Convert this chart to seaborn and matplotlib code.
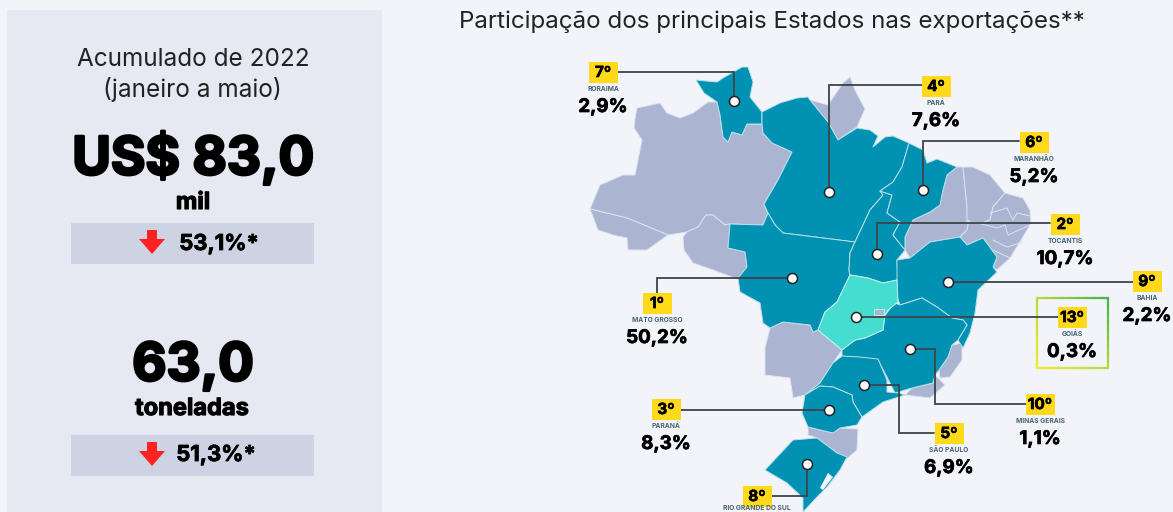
import numpy as np
import pandas as pd
import seaborn as sns
import matplotlib.pyplot as plt
import matplotlib.patheffects as pe
from matplotlib.collections import LineCollection
from matplotlib.colors import LinearSegmentedColormap
from matplotlib.patches import Polygon, Rectangle

sns.set_theme(style='white')
plt.rcParams['font.family'] = ['Inter', 'DejaVu Sans']

ranks = ['7º', '4º', '6º', '2º', '9º', '13º', '10º', '5º', '3º', '1º', '8º']
states = ['RORAIMA', 'PARÁ', 'MARANHÃO', 'TOCANTIS', 'BAHIA', 'GOIÁS', 'MINAS GERAIS',
          'SÃO PAULO', 'PARANÁ', 'MATO GROSSO', 'RIO GRANDE DO SUL']
shares = ['2,9%', '7,6%', '5,2%', '10,7%', '2,2%', '0,3%', '1,1%', '6,9%', '8,3%', '50,2%', '']

# label position (centre of yellow tag) and the point on the map
tag_x = [603, 936, 1034, 1065, 1147, 1072, 1040, 949, 666, 657, 757]
tag_y = [72, 86, 142, 224, 281, 317, 404, 433, 409, 303, 496]
dot_x = [734, 829, 923, 877, 948, 856, 910, 864, 829, 792, 807]
dot_y = [101, 192, 190, 254, 282, 317, 349, 385, 410, 278, 464]

# leader lines, from tag to dot
leader_x = [[618, 734, 734], [922, 829, 829], [1019, 923, 923], [1050, 877, 877],
            [1133, 948], [1058, 856], [1026, 935, 935, 910], [934, 899, 899, 864],
            [680, 829], [657, 657, 792], [771, 807, 807]]
leader_y = [[72, 72, 101], [85, 85, 192], [141, 141, 190], [223, 223, 254],
            [282, 282], [317, 317], [404, 404, 349, 349], [433, 433, 385, 385],
            [410, 410], [293, 278, 278], [496, 496, 464]]

# state outlines
amazonas = [(637, 108), (660, 103), (667, 113), (680, 118), (693, 113), (708, 102), (717, 102), (720, 115),
            (723, 137), (728, 142), (732, 132), (742, 135), (747, 124), (762, 124), (763, 133), (772, 143),
            (792, 152), (778, 180), (764, 204), (768, 213), (763, 225), (730, 224), (725, 225), (713, 215),
            (706, 215), (698, 227), (687, 232), (668, 235), (627, 218), (590, 209), (600, 185), (623, 175),
            (635, 175), (642, 140), (634, 128), (635, 119)]
acre = [(590, 209), (627, 218), (668, 235), (647, 250), (628, 250), (627, 238), (613, 235), (598, 230)]
rondonia = [(683, 237), (687, 232), (698, 227), (706, 215), (713, 215), (725, 225), (730, 224), (728, 248),
            (745, 252), (747, 267), (740, 280), (713, 270), (693, 263), (684, 250)]
amapa = [(810, 100), (828, 105), (843, 83), (850, 77), (855, 90), (865, 109), (857, 127), (838, 140), (828, 122)]
piaui = [(957, 167), (963, 167), (967, 207), (969, 220), (967, 230), (960, 237), (930, 242), (910, 258),
         (905, 250), (905, 237), (913, 220), (930, 212), (940, 205), (943, 190), (947, 175)]
ceara = [(963, 167), (973, 167), (990, 175), (1005, 193), (993, 207), (990, 220), (982, 223), (967, 222), (967, 207)]
nordeste = [(967, 222), (982, 223), (990, 220), (993, 207), (1005, 193), (1023, 198), (1030, 210), (1031, 223),
            (1023, 237), (1010, 258), (997, 270), (993, 267), (997, 257), (983, 238), (967, 245), (960, 237),
            (967, 230), (969, 220)]
mato_grosso_sul = [(770, 328), (783, 322), (810, 325), (813, 332), (818, 330), (842, 350), (833, 363), (820, 383),
                   (805, 395), (793, 398), (790, 378), (765, 375), (765, 348)]
espirito_santo = [(952, 345), (962, 343), (962, 360), (950, 377), (940, 378), (939, 370), (948, 357)]
rio_janeiro = [(935, 375), (945, 385), (930, 398), (905, 395), (912, 388), (933, 383)]
santa_catarina = [(808, 427), (808, 435), (817, 438), (837, 453), (842, 463), (857, 450), (858, 429), (840, 428), (833, 433)]
distrito_federal = [(874, 309), (884, 309), (884, 315), (874, 315)]
grey_states = [amazonas, acre, rondonia, amapa, piaui, ceara, nordeste, mato_grosso_sul, espirito_santo,
               rio_janeiro, santa_catarina, distrito_federal]

roraima = [(696, 80), (717, 82), (723, 78), (742, 67), (748, 67), (753, 82), (750, 97), (762, 112), (762, 124),
           (747, 124), (742, 135), (732, 132), (728, 142), (723, 137), (720, 115), (717, 102), (704, 93)]
para = [(762, 112), (780, 103), (797, 98), (808, 97), (810, 100), (828, 122), (838, 140), (857, 128), (870, 130),
        (878, 136), (873, 147), (885, 137), (893, 136), (909, 143), (902, 167), (893, 182), (880, 191), (883, 195),
        (870, 210), (863, 225), (855, 242), (783, 233), (775, 225), (768, 213), (764, 204), (778, 180), (792, 152),
        (772, 143), (763, 133), (762, 124)]
mato_grosso = [(730, 224), (763, 225), (768, 213), (775, 225), (783, 233), (855, 242), (850, 253), (849, 270),
               (850, 275), (837, 302), (825, 312), (818, 330), (813, 332), (810, 325), (783, 322), (770, 328),
               (763, 323), (760, 303), (740, 292), (738, 278), (747, 267), (745, 252), (728, 248)]
tocantins = [(880, 191), (892, 195), (887, 213), (900, 222), (893, 235), (905, 250), (897, 260), (898, 280),
             (883, 283), (868, 278), (850, 275), (849, 270), (850, 253), (855, 242), (863, 225), (870, 210), (883, 195)]
maranhao = [(909, 143), (923, 150), (927, 163), (937, 159), (957, 167), (947, 175), (943, 190), (940, 205),
            (930, 212), (913, 220), (905, 237), (905, 250), (893, 235), (900, 222), (887, 213), (892, 195),
            (880, 191), (893, 182), (902, 167)]
bahia = [(897, 260), (910, 258), (930, 242), (960, 237), (967, 245), (983, 238), (997, 257), (993, 267), (997, 272),
         (978, 290), (975, 313), (970, 333), (963, 348), (958, 340), (967, 325), (963, 320), (952, 318), (937, 307),
         (922, 298), (900, 305), (897, 297)]
minas = [(842, 350), (855, 340), (865, 338), (883, 330), (885, 315), (895, 303), (900, 305), (922, 298), (937, 307),
         (952, 318), (963, 320), (967, 325), (958, 340), (952, 345), (948, 357), (939, 370), (935, 375), (933, 383),
         (912, 388), (895, 393), (887, 377), (878, 360), (860, 358), (842, 356)]
sao_paulo = [(842, 356), (860, 357), (878, 359), (887, 380), (887, 392), (899, 393), (905, 395), (883, 402),
             (862, 417), (853, 402), (852, 395), (833, 387), (820, 386), (805, 395), (820, 383), (833, 363)]
parana = [(805, 395), (820, 386), (833, 387), (852, 395), (853, 402), (862, 417), (857, 425), (840, 428), (833, 433),
          (808, 427), (802, 413)]
rio_grande_sul = [(817, 438), (837, 453), (847, 457), (840, 470), (827, 487), (817, 497), (803, 512), (803, 498),
                  (787, 483), (765, 470), (793, 440)]
teal_states = [roraima, para, mato_grosso, tocantins, maranhao, bahia, minas, sao_paulo, parana, rio_grande_sul]
goias = [(850, 275), (868, 278), (883, 283), (897, 280), (898, 302), (888, 310), (885, 315), (883, 330), (865, 338),
         (855, 340), (842, 350), (818, 330), (825, 312), (837, 302)]
lagoon = [(828, 473), (833, 477), (823, 490), (820, 488)]
ne_borders = [[(990, 213), (1007, 208), (1013, 220), (1017, 213), (1030, 216)],
              [(967, 222), (982, 224), (997, 228), (1005, 225), (1008, 235), (1030, 225)],
              [(993, 240), (1007, 247), (1023, 242)],
              [(993, 250), (1010, 258)]]

BG = '#F2F4FA'
PANEL = '#E6E8F2'
BAR = '#CDD3E3'
GREY = '#ABB5D1'
TEAL = '#0091B3'
AQUA = '#45DDCF'
YELLOW = '#FFD91A'
LINE = '#3C4448'

fig = plt.figure(figsize=(11.73, 5.12), dpi=100, facecolor=BG)
ax = fig.add_axes([0, 0, 1, 1])
ax.set_xlim(0, 1173)
ax.set_ylim(512, 0)
ax.axis('off')


def heavy(w):
    return [pe.withStroke(linewidth=w, foreground='black')]


# left panel
ax.add_patch(Rectangle((7, 10), 375, 502, fc=PANEL, ec='none'))
ax.add_patch(Rectangle((71, 223), 243, 41, fc=BAR, ec='none'))
ax.add_patch(Rectangle((71, 435), 243, 41, fc=BAR, ec='none'))
ax.text(193, 60, 'Acumulado de 2022', ha='center', va='center', fontsize=17.5, color='#222222')
ax.text(192, 90, '(janeiro a maio)', ha='center', va='center', fontsize=17.5, color='#222222')
ax.text(193, 159, 'US$ 83,0', ha='center', va='center', fontsize=38, color='black', fontweight='bold', path_effects=heavy(2))
ax.text(193, 203, 'mil', ha='center', va='center', fontsize=17, color='black', fontweight='bold', path_effects=heavy(0.8))
ax.text(219, 244, '53,1%*', ha='center', va='center', fontsize=15.8, color='black', fontweight='bold', path_effects=heavy(0.6))
ax.text(193, 367, '63,0', ha='center', va='center', fontsize=38, color='black', fontweight='bold', path_effects=heavy(2))
ax.text(192, 409, 'toneladas', ha='center', va='center', fontsize=17, color='black', fontweight='bold', path_effects=heavy(0.8))
ax.text(216, 455, '51,3%*', ha='center', va='center', fontsize=15.8, color='black', fontweight='bold', path_effects=heavy(0.6))
for ay in [230, 442]:
    ax.add_patch(Polygon([(147, ay), (157, ay), (157, ay + 9), (165, ay + 9), (152, ay + 24),
                          (139, ay + 9), (147, ay + 9)], fc='#FF2222', ec='none'))

ax.text(772, 22, 'Participação dos principais Estados nas exportações**', ha='center', va='center',
        fontsize=17.4, color='#222222')

# map
for shape in grey_states:
    ax.add_patch(Polygon(shape, fc=GREY, ec='#DDE3F0', lw=0.7, joinstyle='round'))
for shape in teal_states:
    ax.add_patch(Polygon(shape, fc=TEAL, ec='#B9E0EA', lw=0.7, joinstyle='round'))
ax.add_patch(Polygon(goias, fc=AQUA, ec='#C5F2EE', lw=0.7, joinstyle='round'))
ax.add_patch(Polygon(distrito_federal, fc=GREY, ec='#C5F2EE', lw=0.6))
ax.add_patch(Polygon(lagoon, fc=BG, ec='none'))
for border in ne_borders:
    ax.plot(*zip(*border), color='#DDE3F0', lw=0.7)

# Goias frame, green top right to yellow bottom left
frame_x = [1037, 1108, 1108, 1037, 1037]
frame_y = [298, 298, 368, 368, 298]
frame_cmap = LinearSegmentedColormap.from_list('frame', ['#F0EC2C', '#B7DA3C', '#3FB54A'])
segs = []
cols = []
for i in range(4):
    xs = np.linspace(frame_x[i], frame_x[i + 1], 40)
    ys = np.linspace(frame_y[i], frame_y[i + 1], 40)
    for j in range(39):
        segs.append([(xs[j], ys[j]), (xs[j + 1], ys[j + 1])])
        cols.append(frame_cmap(((xs[j] - 1037) / 71 + (368 - ys[j]) / 70) / 2))
ax.add_collection(LineCollection(segs, colors=cols, linewidths=1.6, capstyle='round'))

for lx, ly in zip(leader_x, leader_y):
    ax.plot(lx, ly, color=LINE, lw=1.3, solid_joinstyle='miter', zorder=3)

dots = pd.DataFrame({'x': dot_x, 'y': dot_y})
sns.scatterplot(data=dots, x='x', y='y', s=52, color='white', edgecolor='#222222', linewidth=1.1, ax=ax, zorder=4, legend=False)
ax.set_xlim(0, 1173)
ax.set_ylim(512, 0)

# tags
for r, st, sh, tx, ty in zip(ranks, states, shares, tag_x, tag_y):
    ax.add_patch(Rectangle((tx - 14.5, ty - 10), 29, 20.5, fc=YELLOW, ec='none', zorder=5))
    ax.text(tx, ty + 0.5, r, ha='center', va='center', fontsize=11, color='black', fontweight='bold', zorder=6,
            path_effects=heavy(0.5))
    # last label sits right on the bottom edge, nudged up so it stays whole
    label_y = min(ty + 17, 508)
    ax.text(tx, label_y, st, ha='center', va='center', fontsize=4.8, color='#4A6472', fontweight='bold', zorder=6)
    if sh:
        ax.text(tx, ty + 35.5, sh, ha='center', va='center', fontsize=13.5, color='black', fontweight='bold', zorder=6,
                path_effects=heavy(0.5))

fig.savefig('out.png', dpi=100, facecolor=BG)
